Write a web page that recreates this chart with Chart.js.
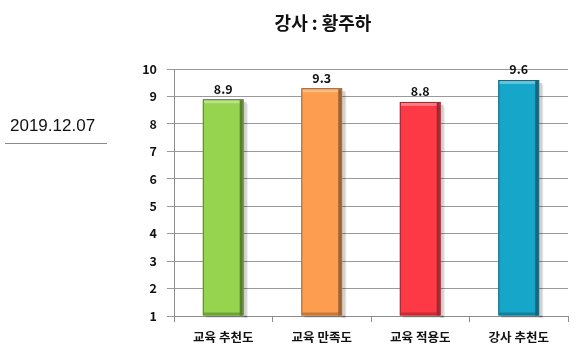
<!DOCTYPE html>
<html><head><meta charset="utf-8">
<script src="https://cdn.jsdelivr.net/npm/chart.js@4/dist/chart.umd.min.js"></script>
<style>
html,body{margin:0;padding:0;background:#fff;}
#wrap{position:relative;width:578px;height:358px;overflow:hidden;}
canvas{position:absolute;left:0;top:0;}
#title{position:absolute;left:223px;width:200px;top:9px;text-align:center;font:bold 18px "Noto Sans CJK KR",sans-serif;color:#111;}
#date{position:absolute;left:10px;top:116px;font:17px "Liberation Sans","Noto Sans",sans-serif;color:#111;}
#uline{position:absolute;left:5px;top:143px;width:102px;height:1px;background:#6fa643;}
</style></head>
<body><div id="wrap">
<canvas id="c" width="578" height="358"></canvas>
<div id="title">강사 : 황주하</div>
<div id="date">2019.12.07</div>
<div id="uline"></div>
</div>
<script>
const categories = ['교육 추천도', '교육 만족도', '교육 적용도', '강사 추천도'];
const scores = [8.9, 9.3, 8.8, 9.6];
const barColors = ['#96d44f', '#fd9d4f', '#fd3945', '#16a6ca'];
const lightColors = ['#b6e67f', '#ffbb80', '#ff7a82', '#5cc6e2'];
const edgeColors = ['#5a7f33', '#9c6536', '#9a2a30', '#1d6477'];
const yTicks = [1, 2, 3, 4, 5, 6, 7, 8, 9, 10];

const font = {family: '"Noto Sans CJK KR", sans-serif', weight: 'bold', size: 12.5};

const bevelPlugin = {
  id: 'bevel',
  beforeDatasetsDraw(chart) {
    const ctx = chart.ctx;
    const meta = chart.getDatasetMeta(0);
    ctx.save();
    meta.data.forEach((bar) => {
      const p = bar.getProps(['x', 'y', 'width', 'base'], true);
      const l = p.x - p.width / 2, r = p.x + p.width / 2;
      ctx.fillStyle = 'rgba(0,0,0,0.18)';
      ctx.fillRect(r, p.y + 3, 3, p.base - p.y - 1);
      ctx.fillRect(l + 3, p.base, p.width, 2);
      ctx.fillStyle = 'rgba(0,0,0,0.10)';
      ctx.fillRect(r + 3, p.y + 5, 1, p.base - p.y - 2);
    });
    ctx.restore();
  },
  afterDatasetsDraw(chart) {
    const ctx = chart.ctx;
    const meta = chart.getDatasetMeta(0);
    ctx.save();
    meta.data.forEach((bar, i) => {
      const p = bar.getProps(['x', 'y', 'width', 'base'], true);
      const l = p.x - p.width / 2, r = p.x + p.width / 2;
      const h = p.base - p.y;
      // top light bevel
      ctx.fillStyle = lightColors[i];
      ctx.fillRect(l + 1, p.y + 1, p.width - 2, 3);
      // right dark bevel
      ctx.fillStyle = edgeColors[i];
      ctx.fillRect(r - 4, p.y + 1, 3, h - 1);
      // bottom dark bevel
      ctx.globalAlpha = 0.6;
      ctx.fillRect(l + 1, p.base - 3, p.width - 2, 2);
      ctx.globalAlpha = 1;
      // outline
      ctx.strokeStyle = edgeColors[i];
      ctx.lineWidth = 1;
      ctx.strokeRect(l + 0.5, p.y + 0.5, p.width - 1, h - 1);
    });
    ctx.font = 'bold 12.5px "Noto Sans CJK KR", sans-serif';
    ctx.fillStyle = '#111';
    ctx.textAlign = 'center';
    ctx.textBaseline = 'bottom';
    meta.data.forEach((bar, i) => {
      ctx.fillText(String(scores[i]), bar.x, bar.y - 4);
    });
    ctx.restore();
  }
};

new Chart(document.getElementById('c'), {
  type: 'bar',
  data: {
    labels: categories,
    datasets: [{
      data: scores,
      base: 1,
      backgroundColor: barColors,
      borderWidth: 0,
      barPercentage: 0.83,
      categoryPercentage: 0.5
    }]
  },
  options: {
    responsive: false,
    animation: false,
    layout: {padding: {top: 69, right: 10, left: 0, bottom: 0}},
    plugins: {legend: {display: false}, title: {display: false}, tooltip: {enabled: false}},
    scales: {
      x: {
        afterFit(s) { s.height = 42; },
        grid: {offset: true, drawOnChartArea: false, tickLength: 6, color: '#8c8c8c'},
        border: {color: '#8c8c8c'},
        ticks: {font: font, color: '#111', padding: 8}
      },
      y: {
        min: 1, max: 10,
        afterFit(s) { s.width = 174; },
        afterBuildTicks(s) { s.ticks = yTicks.map(v => ({value: v})); },
        grid: {color: '#9a9a9a', tickLength: 7},
        border: {color: '#8c8c8c'},
        ticks: {font: font, color: '#111', padding: 10}
      }
    }
  },
  plugins: [bevelPlugin]
});
</script>
</body></html>
